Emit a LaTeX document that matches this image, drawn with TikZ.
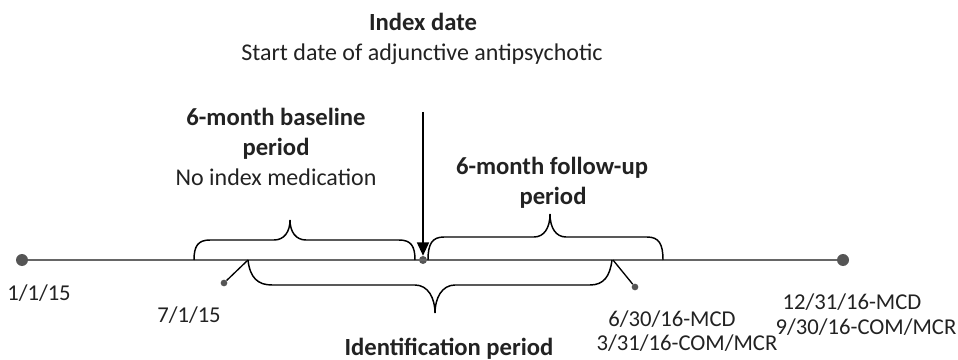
\documentclass[tikz,border=0pt]{standalone}
\usepackage{fontspec}
\setmainfont{Carlito}
\usetikzlibrary{arrows.meta}
\definecolor{txt}{HTML}{222222}
\definecolor{axis}{HTML}{666666}
\definecolor{dotc}{HTML}{555555}
\tikzset{
  lbl/.style={text=txt, font=\fontsize{18}{22}\selectfont, inner sep=0pt, text height=11.6pt, text depth=0pt},
  blbl/.style={lbl, font=\fontsize{18.5}{22}\selectfont\bfseries},
  dlbl/.style={lbl, font=\fontsize{17}{20}\selectfont, text height=11pt},
  brace/.style={draw=black, line width=1.1pt},
  bigdot/.style={circle, fill=dotc, minimum size=9pt, inner sep=0pt},
  middot/.style={circle, fill=dotc, minimum size=6pt, inner sep=0pt},
  smalldot/.style={circle, fill=dotc, minimum size=5pt, inner sep=0pt},
}
\begin{document}
\begin{tikzpicture}[x=0.75pt,y=-0.75pt]
\useasboundingbox (0,0) rectangle (958,360);
% timeline
\node[bigdot] (start) at (22,260) {};
\node[bigdot] (end) at (843,260) {};
\node[middot] (idx) at (423,260) {};
\draw[axis, line width=1.5pt] (start) -- (end);
% braces
\draw[brace] (194,260) .. controls (194,246) and (198,240) .. (210,240) -- (274,240)
  .. controls (284,240) and (290,232) .. (290,220)
  .. controls (290,232) and (296,240) .. (306,240) -- (399,240)
  .. controls (411,240) and (415,246) .. (415,260);
\draw[brace] (428,260) .. controls (428,244) and (432,237) .. (444,237) -- (534,237)
  .. controls (544,237) and (550,228) .. (550,214)
  .. controls (550,228) and (556,237) .. (566,237) -- (647,237)
  .. controls (659,237) and (663,244) .. (663,260);
\draw[brace] (248,260) .. controls (250,278) and (258,285) .. (272,285) -- (415,285)
  .. controls (428,285) and (435,298) .. (435,313)
  .. controls (435,298) and (442,285) .. (455,285) -- (590,285)
  .. controls (604,285) and (610,276) .. (612,260);
% ticks
\coordinate (t1) at (248,260);
\coordinate (t2) at (613,260);
\node[smalldot] (d1) at (224,283) {};
\node[smalldot] (d2) at (635,287) {};
\draw[line width=1pt] (t1) -- (d1);
\draw[line width=1pt] (t2) -- (d2);
% arrow
\coordinate (atop) at (423,112);
\draw[line width=1.3pt, -{Triangle[length=10pt,width=9pt]}] (atop) -- (idx.north);
% texts
\node[blbl] (idxd) at (423,23) {Index date};
\node[lbl] (idxs) at (422,53) {Start date of adjunctive antipsychotic};
\node[blbl] (base1) at (276,118) {6-month baseline};
\node[blbl] (base2) at (276,148) {period};
\node[lbl] (base3) at (276,178) {No index medication};
\node[blbl] (fu1) at (552,167) {6-month follow-up};
\node[blbl] (fu2) at (553,197) {period};
\node[dlbl] (l1) at (39,293) {1/1/15};
\node[dlbl] (l2) at (189,315) {7/1/15};
\node[blbl] (ident) at (449,348) {Identification period};
\node[dlbl] (r1a) at (672,319) {6/30/16-MCD};
\node[dlbl] (r1b) at (687,343) {3/31/16-COM/MCR};
\node[dlbl] (r2a) at (852,302) {12/31/16-MCD};
\node[dlbl] (r2b) at (866,327) {9/30/16-COM/MCR};
\end{tikzpicture}
\end{document}
